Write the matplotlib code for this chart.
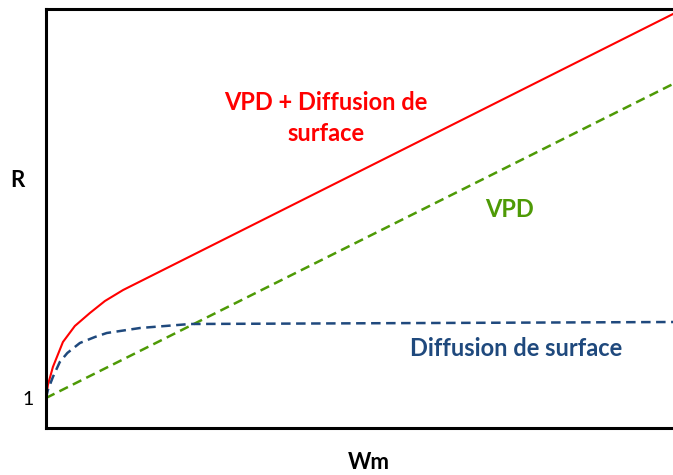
import matplotlib.pyplot as plt

# courbes R en fonction de Wm (unités arbitraires)
wm_red = [0, 0.03, 0.11, 0.27, 0.46, 0.70, 0.94, 1.23, 10]
r_red = [1.0, 1.13, 1.31, 1.56, 1.72, 1.85, 1.97, 2.08, 4.84]

wm_vpd = [0, 10]
r_vpd = [1.0, 4.14]

wm_diff = [0, 0.03, 0.11, 0.22, 0.34, 0.54, 0.78, 0.97, 1.50, 2.30, 10]
r_diff = [1.0, 1.08, 1.21, 1.36, 1.45, 1.55, 1.61, 1.65, 1.70, 1.74, 1.76]

plt.rcParams['font.family'] = ['Lato', 'DejaVu Sans']

fig = plt.figure(figsize=(6.73, 4.75), dpi=100)
ax = fig.add_axes([46 / 673, 47 / 475, 1 - 46 / 673, 419 / 475])

ax.plot(wm_red, r_red, c='#ff0000', lw=1.5)
ax.plot(wm_vpd, r_vpd, c='#4e9a06', lw=1.8, dashes=(3.8, 2.2))
ax.plot(wm_diff, r_diff, c='#1f497d', lw=1.8, dashes=(3.8, 2.2))

ax.text(4.47, 3.80, 'VPD + Diffusion de\nsurface', color='#ff0000', fontsize=17,
        fontweight='bold', ha='center', va='center', linespacing=1.45,
        multialignment='center')
ax.text(7.4, 2.88, 'VPD', color='#4e9a06', fontsize=17, fontweight='bold',
        ha='center', va='center')
ax.text(7.5, 1.50, 'Diffusion de surface', color='#1f497d', fontsize=17,
        fontweight='bold', ha='center', va='center')

ax.set_xlim(0, 10)
ax.set_ylim(0.70, 4.89)
ax.set_xticks([])
ax.set_yticks([1])
ax.set_yticklabels(['1'], fontsize=14)
ax.tick_params(axis='y', length=0, pad=9)
ax.spines['right'].set_visible(False)
for s in ['left', 'top', 'bottom']:
    ax.spines[s].set_linewidth(2.2)

ax.set_xlabel('Wm', fontsize=16, fontweight='bold')
ax.xaxis.set_label_coords(0.515, -0.058)
ax.set_ylabel('R', fontsize=16, fontweight='bold', rotation=0)
ax.yaxis.set_label_coords(-0.045, 0.565)

fig.savefig('out.png', dpi=100)
